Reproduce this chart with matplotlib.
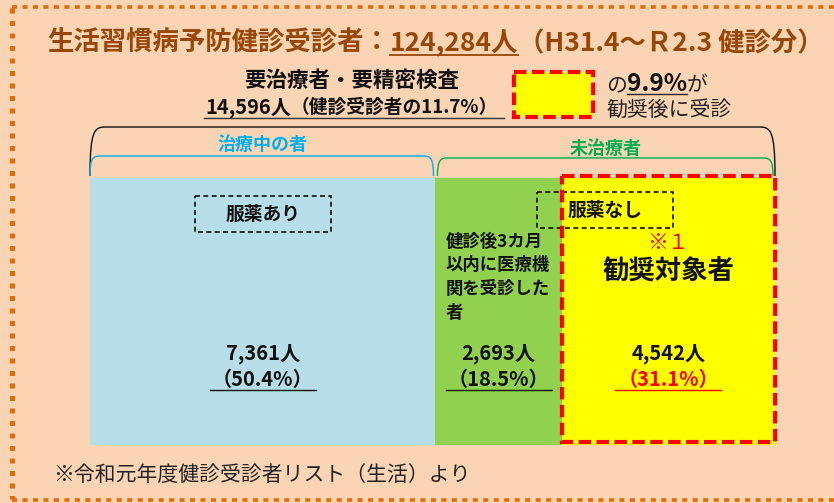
import matplotlib
matplotlib.use("Agg")
import matplotlib.pyplot as plt
import matplotlib.transforms as mtrans
from matplotlib.patches import Rectangle, PathPatch
from matplotlib.path import Path

plt.rcParams['font.family'] = ['Noto Sans CJK JP', 'DejaVu Sans']

# ---------------- data ----------------
title_main = "生活習慣病予防健診受診者："
title_count = "124,284人"
title_period = "（H31.4～Ｒ2.3 健診分）"
target_head = "要治療者・要精密検査"
target_count = "14,596人"
target_note = "（健診受診者の11.7%）"
recommend_rate = "9.9%"
group_labels = ["治療中の者", "未治療者"]
medication_labels = ["服薬あり", "服薬なし"]
categories = ["治療中（服薬あり）", "健診後3カ月以内に医療機関を受診した者", "勧奨対象者"]
counts = [7361, 2693, 4542]
count_labels = ["7,361人", "2,693人", "4,542人"]
pct_labels = ["（50.4%）", "（18.5%）", "（31.1%）"]
visited_text = ["健診後3カ月", "以内に医療機", "関を受診した", "者"]
target_title = "勧奨対象者"
target_mark = "※１"
footnote = "※令和元年度健診受診者リスト（生活）より"

# ---------------- style ----------------
BG = "#FBD4B4"
ORANGE = "#E36C09"
BROWN = "#984806"
seg_colors = ["#B7DEE8", "#92D050", "#FFFF00"]
CYAN = "#00B0F0"
GREEN = "#00B050"
RED = "#FF0000"
W, H = 834, 503

fig = plt.figure(figsize=(W / 100, H / 100), dpi=100)
fig.patch.set_facecolor(BG)
ax = fig.add_axes([0, 0, 1, 1])
ax.set_xlim(0, W)
ax.set_ylim(H, 0)
ax.axis('off')
ax.set_zorder(3)

# stacked bar (widths from counts)
total = sum(counts)
lefts = [sum(counts[:i]) for i in range(len(counts))]
axb = fig.add_axes([90 / W, (H - 445) / H, 685 / W, 267 / H])
axb.set_xlim(0, total)
axb.set_ylim(-0.5, 0.5)
axb.axis('off')
axb.set_zorder(1)
axb.barh(0, counts, left=lefts, height=1, color=seg_colors, edgecolor='none')


def px(v):
    return ax.transData.inverted().transform(axb.transData.transform((v, 0)))[0]


fig.canvas.draw()
rend = fig.canvas.get_renderer()


def measure(s, **kw):
    t = ax.text(0, 0, s, **kw)
    bb = t.get_window_extent(renderer=rend)
    t.remove()
    return bb.width


def run(x, y, pieces, align='left'):
    widths = [measure(s, **kw) for s, kw in pieces]
    tot = sum(widths)
    if align == 'center':
        x -= tot / 2
    spans = []
    for (s, kw), w in zip(pieces, widths):
        ax.text(x, y, s, ha='left', va='baseline', **kw)
        spans.append((x, x + w))
        x += w
    return spans


# ---------------- border ----------------
ax.plot([12, 12], [8, 499], color=ORANGE, lw=3.6, ls=(0, (1, 1.5)), dash_capstyle='butt')
ax.plot([12, W], [6.5, 6.5], color=ORANGE, lw=2.6, ls=(0, (1.4, 1.5)), dash_capstyle='butt')
ax.plot([12, W], [499.5, 499.5], color=ORANGE, lw=2.6, ls=(0, (1.4, 1.5)), dash_capstyle='butt')

# ---------------- title ----------------
tkw = dict(fontsize=19, fontweight='bold', color=BROWN)
sp = run(47, 51, [(title_main, tkw), (title_count, tkw), (title_period, tkw)])
ax.plot([sp[1][0], sp[1][1]], [55, 55], color=BROWN, lw=1.3)

# ---------------- second block ----------------
ax.text(352, 80, target_head, ha='center', va='center', fontsize=15.5, fontweight='bold',
        color='#111111')
sp = run(205, 113, [(target_count, dict(fontsize=14.5, fontweight='bold', color='#111111')),
                    (target_note, dict(fontsize=13.5, fontweight='bold', color='#111111'))])
ax.plot([204, sp[-1][1] + 6], [117.5, 117.5], color='#333333', lw=1.0)

ax.add_patch(Rectangle((514, 72), 79, 45, facecolor=seg_colors[2], edgecolor=RED, lw=3.0,
                       ls=(0, (3, 1.3))))
sp = run(606, 91, [("の", dict(fontsize=15, color='#222222')),
                   (recommend_rate, dict(fontsize=17.5, fontweight='bold', color='#111111')),
                   ("が", dict(fontsize=15, color='#222222'))])
ax.plot([sp[1][0], sp[1][1]], [94, 94], color='#222222', lw=1.0)
ax.text(606, 116, "勧奨後に受診", ha='left', va='baseline', fontsize=15, color='#222222')

# ---------------- brackets ----------------
b1 = px(lefts[1])
b2 = px(lefts[2])
x0 = px(0)
x1 = px(total)


def bracket(xa, xb, ybot, ytop, r, color):
    verts = [(xa, ybot), (xa, ytop + 2), (xa + r * 0.3, ytop), (xa + r, ytop),
             (xb - r, ytop), (xb - r * 0.3, ytop), (xb, ytop + 2), (xb, ybot)]
    codes = [Path.MOVETO, Path.CURVE4, Path.CURVE4, Path.CURVE4,
             Path.LINETO, Path.CURVE4, Path.CURVE4, Path.CURVE4]
    ax.add_patch(PathPatch(Path(verts, codes), facecolor='none', edgecolor=color, lw=1.0))


bracket(x0, x1, 176, 127, 16, '#111111')
bracket(x0, b1 - 2, 176, 156, 10, CYAN)
bracket(b1 + 2, x1 - 2, 176, 158, 10, GREEN)

ax.text((x0 + b1) / 2, 145, group_labels[0], ha='center', va='center', fontsize=13,
        fontweight='bold', color=CYAN)
ax.text((b1 + x1) / 2, 148, group_labels[1], ha='center', va='center', fontsize=13,
        fontweight='bold', color=GREEN)

# ---------------- medication boxes ----------------
for cx, cy, lab in [((x0 + b1) / 2, 214, medication_labels[0]),
                    ((b1 + x1) / 2, 210, medication_labels[1])]:
    ax.add_patch(Rectangle((cx - 68, cy - 18), 136, 36, facecolor='none', edgecolor='#111111',
                           lw=1.2, ls=(0, (3, 2)), zorder=4))
    ax.text(cx, cy, lab, ha='center', va='center', fontsize=13.5, fontweight='bold',
            color='#111111', zorder=5)

# ---------------- target dashed box ----------------
ax.add_patch(Rectangle((b2, 176), x1 - b2, 266, facecolor='none', edgecolor=RED, lw=3.0,
                       ls=(0, (3, 1.3)), zorder=4))

# green text block
for i, line in enumerate(visited_text):
    ax.text(b1 + 10, 242 + i * 23.5, line, ha='left', va='center', fontsize=12.5,
            fontweight='bold', color='#111111')

yc = (b2 + x1) / 2
ax.text(yc, 243, target_mark, ha='center', va='center', fontsize=15, color=RED)
ax.text(yc, 272, target_title, ha='center', va='center', fontsize=19, fontweight='bold',
        color='#111111')

# ---------------- counts & percentages ----------------
for i in range(len(counts)):
    cx = px(lefts[i] + counts[i] / 2)
    col = RED if i == 2 else '#111111'
    ax.text(cx, 354, count_labels[i], ha='center', va='center', fontsize=14.5,
            fontweight='bold', color='#111111')
    ax.text(cx, 379, pct_labels[i], ha='center', va='center', fontsize=14.5,
            fontweight='bold', color=col)
    ax.plot([cx - 53, cx + 53], [390, 390], color=col, lw=1.0)

# ---------------- footnote ----------------
ax.text(53, 475, footnote, ha='left', va='center', fontsize=15, color='#222222')

fig.savefig("out.png", dpi=100, facecolor=BG)
